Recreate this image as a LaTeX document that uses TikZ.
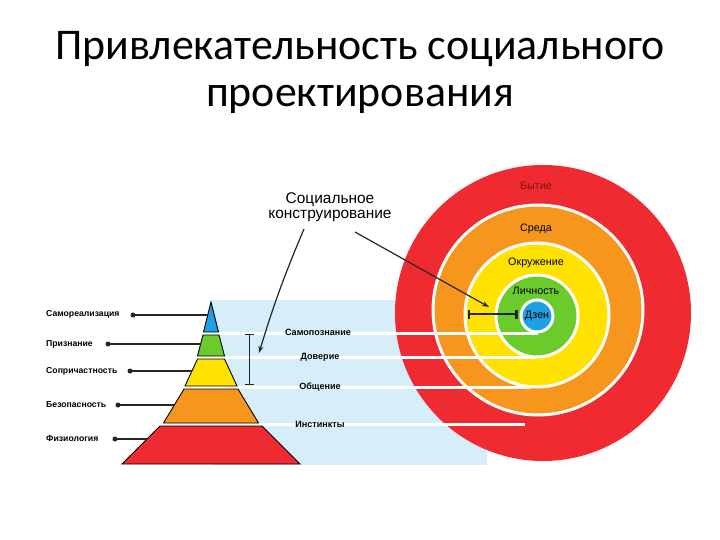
\documentclass[tikz,border=0pt]{standalone}
\usepackage{fontspec}
\setmainfont{Liberation Sans}
\newfontfamily\titlefont{Carlito}
\usetikzlibrary{arrows.meta}
\definecolor{cred}{HTML}{EF2A31}
\definecolor{corange}{HTML}{F7961C}
\definecolor{cyellow}{HTML}{FFE200}
\definecolor{cgreen}{HTML}{6ACB2B}
\definecolor{cblue}{HTML}{1DA0E4}
\definecolor{cband}{HTML}{D5EEF9}
\definecolor{cdark}{HTML}{7A1414}
\tikzset{
  layer/.style={draw=black, line width=0.9bp, line join=miter},
  ring/.style={draw=white, line width=3bp},
  gap/.style={draw=white, line width=3bp},
  leftlab/.style={font=\bfseries\fontsize{8.7}{10}\selectfont, anchor=west, inner sep=0},
  midlab/.style={font=\bfseries\fontsize{9.1}{10}\selectfont, inner sep=0},
  circlab/.style={font=\fontsize{10.8}{12}\selectfont, inner sep=0},
  scfont/.style={font=\fontsize{15.5}{16}\selectfont, anchor=base, inner sep=0},
  leader/.style={draw=black!85, line width=1.3bp},
  dot/.style={circle, fill=black!85, inner sep=0, minimum size=5bp},
  pointer/.style={draw=black!85, line width=1.2bp, -{Stealth[length=7bp,width=5bp]}},
  ibeam/.style={draw=black!85, {Bar[width=9bp]}-{Bar[width=9bp]}}
}
\begin{document}
\begin{tikzpicture}[x=1bp,y=-1bp]
\useasboundingbox[fill=white] (0,0) rectangle (720,540);
% title
\node[font=\titlefont\fontsize{44}{50}\selectfont, anchor=base, inner sep=0] (t1) at (360,60) {Привлекательность социального};
\node[font=\titlefont\fontsize{44}{50}\selectfont, anchor=base, inner sep=0] (t2) at (360,107) {проектирования};
% band
\fill[cband] (212,300) rectangle (487,465);
% circles
\fill[cred] (543,313) circle[radius=148];
\path[fill=corange, ring] (538,310) circle[radius=105];
\path[fill=cyellow, ring] (537,315) circle[radius=72];
\path[fill=cgreen, ring] (537,316) circle[radius=41];
\path[fill=cblue, ring] (537,316) circle[radius=16];
% white lines
\coordinate (w1a) at (212,333.5); \coordinate (w1b) at (538,333.5);
\coordinate (w2a) at (212,357.5); \coordinate (w2b) at (535,357.5);
\coordinate (w3a) at (212,387.5); \coordinate (w3b) at (530,387.5);
\coordinate (w4a) at (212,424.5); \coordinate (w4b) at (525,424.5);
\draw[gap] (w1a) -- (w1b);
\draw[gap] (w2a) -- (w2b);
\draw[gap] (w3a) -- (w3b);
\draw[gap] (w4a) -- (w4b);
% pyramid
\path[layer, fill=cblue] (211,302) -- (218.5,332) -- (203.5,332) -- cycle;
\path[layer, fill=cgreen] (203,335) -- (219,335) -- (224.5,356) -- (197.5,356) -- cycle;
\path[layer, fill=cyellow] (197.5,359) -- (224.5,359) -- (237,386) -- (185,386) -- cycle;
\path[layer, fill=corange] (184,389) -- (238,389) -- (258.5,423) -- (163.5,423) -- cycle;
\path[layer, fill=cred] (160,426) -- (262,426) -- (300,464) -- (122,464) -- cycle;
% left labels
\node[leftlab] (l1) at (46,314.5) {Самореализация};
\node[leftlab] (l2) at (46,344) {Признание};
\node[leftlab] (l3) at (46,371) {Сопричастность};
\node[leftlab] (l4) at (46,404.5) {Безопасность};
\node[leftlab] (l5) at (46,438.5) {Физиология};
\node[dot] (d1) at (133,315) {};
\node[dot] (d2) at (108,344) {};
\node[dot] (d3) at (130,371) {};
\node[dot] (d4) at (118,405) {};
\node[dot] (d5) at (115,439) {};
\coordinate (p1) at (207.5,315);
\coordinate (p2) at (201,344);
\coordinate (p3) at (192,371);
\coordinate (p4) at (174,405);
\coordinate (p5) at (147,439);
\draw[leader] (d1.center) -- (p1);
\draw[leader] (d2.center) -- (p2);
\draw[leader] (d3.center) -- (p3);
\draw[leader] (d4.center) -- (p4);
\draw[leader] (d5.center) -- (p5);
% middle labels
\node[midlab] (m1) at (318,332) {Самопознание};
\node[midlab] (m2) at (320,357.5) {Доверие};
\node[midlab] (m3) at (320,387) {Общение};
\node[midlab] (m4) at (320,424) {Инстинкты};
% circle labels
\node[circlab, text=cdark] (c1) at (536,186) {Бытие};
\node[circlab] (c2) at (536,229) {Среда};
\node[circlab] (c3) at (536,263) {Окружение};
\node[circlab] (c4) at (536,291) {Личность};
\node[circlab] (c5) at (537,316) {Дзен};
% brackets
\coordinate (b1) at (249.5,334); \coordinate (b2) at (249.5,385);
\draw[ibeam, line width=1.3bp] (b1) -- (b2);
\coordinate (h1) at (467.5,314); \coordinate (h2) at (517.5,314);
\draw[ibeam, line width=2.2bp] (h1) -- (h2);
% social construction
\node[scfont] (sc1) at (330,204) {Социальное};
\node[scfont] (sc2) at (330,219) {конструирование};
\coordinate (a1s) at (304,229); \coordinate (a1e) at (259,353);
\coordinate (a2s) at (355,232); \coordinate (a2e) at (489,307);
\draw[pointer] (a1s) to[bend right=3] (a1e);
\draw[pointer] (a2s) -- (a2e);
\end{tikzpicture}
\end{document}
